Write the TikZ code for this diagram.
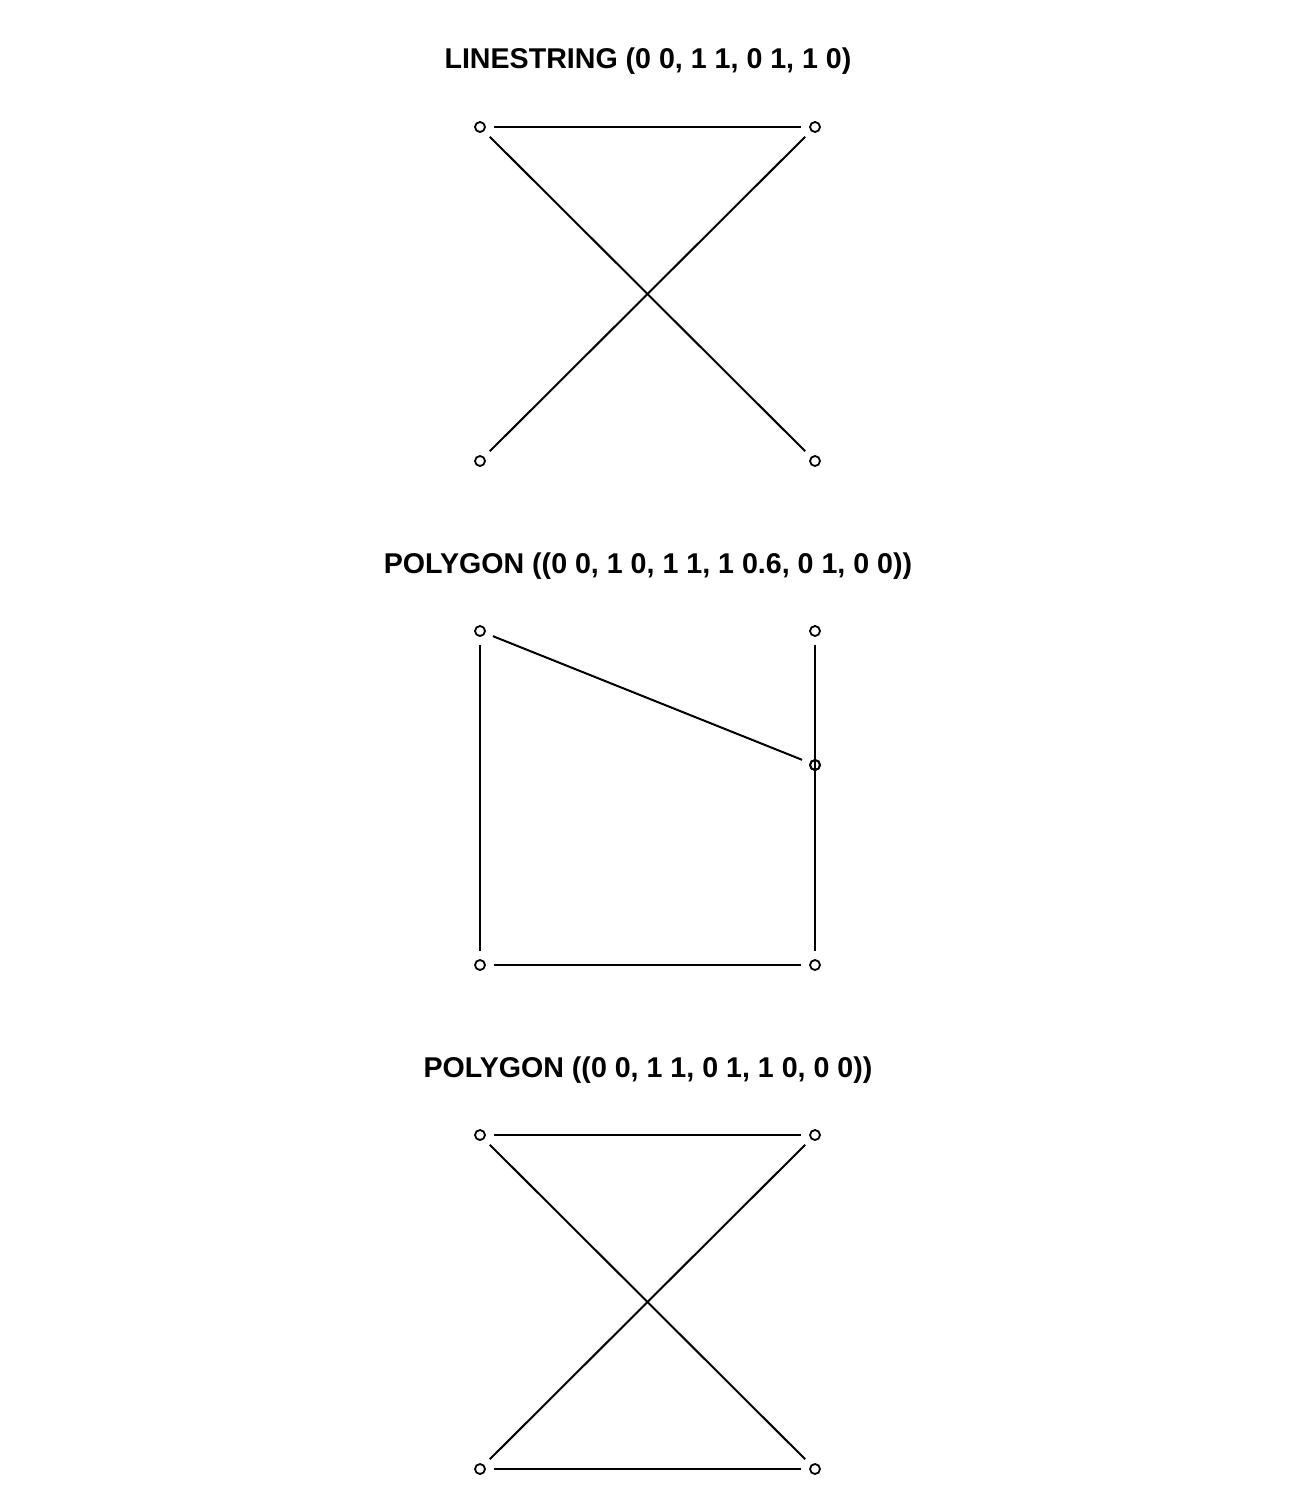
\documentclass[tikz,border=0pt]{standalone}
\usepackage{fontspec}
\setmainfont{Liberation Sans}
\begin{document}
\begin{tikzpicture}[x=1pt,y=-1pt,
  vtx/.style={circle,draw,line width=1.8pt,minimum size=10pt,inner sep=0pt,fill=white},
  edge/.style={line width=2pt,shorten >=8pt,shorten <=8pt},
  ttl/.style={anchor=base,font=\fontsize{28.6}{30}\selectfont\bfseries}]
\useasboundingbox[fill=white] (0,0) rectangle (1296,1512);
% Panel 1
\node[ttl] (t1) at (648,68) {LINESTRING (0 0, 1 1, 0 1, 1 0)};
\node[vtx] (a00) at (480,461) {};
\node[vtx] (a11) at (815,127) {};
\node[vtx] (a01) at (480,127) {};
\node[vtx] (a10) at (815,461) {};
\draw[edge] (a00) -- (a11);
\draw[edge] (a11) -- (a01);
\draw[edge] (a01) -- (a10);
% Panel 2
\node[ttl] (t2) at (648,573) {POLYGON ((0 0, 1 0, 1 1, 1 0.6, 0 1, 0 0))};
\node[vtx] (b00) at (480,965) {};
\node[vtx] (b10) at (815,965) {};
\node[vtx] (b11) at (815,631) {};
\node[vtx] (b16) at (815,765) {};
\node[vtx] (b01) at (480,631) {};
\draw[edge] (b00) -- (b10);
\draw[edge] (b10) -- (b11);
\draw[edge] (b11) -- (b16);
\draw[edge] (b16) -- (b01);
\draw[edge] (b01) -- (b00);
\node[circle,draw,line width=1.8pt,minimum size=10pt,inner sep=0pt] at (b16) {};
% Panel 3
\node[ttl] (t3) at (648,1077) {POLYGON ((0 0, 1 1, 0 1, 1 0, 0 0))};
\node[vtx] (c00) at (480,1469) {};
\node[vtx] (c11) at (815,1135) {};
\node[vtx] (c01) at (480,1135) {};
\node[vtx] (c10) at (815,1469) {};
\draw[edge] (c00) -- (c11);
\draw[edge] (c11) -- (c01);
\draw[edge] (c01) -- (c10);
\draw[edge] (c10) -- (c00);
\end{tikzpicture}
\end{document}
